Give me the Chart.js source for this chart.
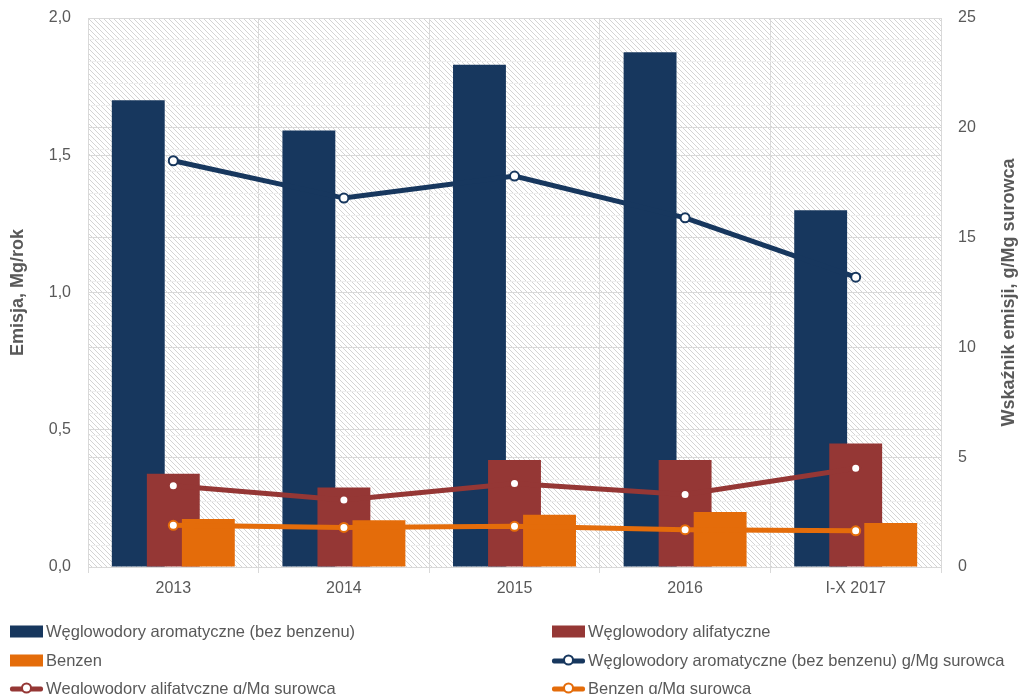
<!DOCTYPE html>
<html>
<head>
<meta charset="utf-8">
<script src="https://cdn.jsdelivr.net/npm/chart.js"></script>
<style>
  html, body { margin: 0; padding: 0; background: #fff; }
  #wrap { position: relative; width: 1025px; height: 694px; overflow: hidden; }
  #legend { position: absolute; left: 0; top: 0; width: 1025px; height: 694px; pointer-events: none;
            font-family: "Liberation Sans", Arial, sans-serif; font-size: 16.5px; color: #595959; }
  .item { position: absolute; display: flex; align-items: center; white-space: nowrap; transform: translateY(-50%); }
  .box { width: 33px; height: 12px; margin-right: 3px; }
  .ln { position: relative; width: 33px; height: 12px; margin-right: 3px; }
  .ln .bar { position: absolute; left: 0; right: 0; top: 4px; height: 5px; border-radius: 2px; }
  .ln .dot { position: absolute; left: 11px; top: 0; width: 7px; height: 7px; border-radius: 50%; background: #fff; border: 2.5px solid; }
</style>
</head>
<body>
<div id="wrap">
  <canvas id="chart" width="1025" height="694"></canvas>
  <div id="legend"></div>
</div>
<script>
// data
const years = ["2013", "2014", "2015", "2016", "I-X 2017"];
const aromatyczne = [1.70, 1.59, 1.83, 1.875, 1.30];
const alifatyczne = [0.34, 0.29, 0.39, 0.39, 0.45];
const benzen = [0.175, 0.17, 0.19, 0.20, 0.16];
const aromatyczneWsk = [18.5, 16.8, 17.8, 15.9, 13.2];
const alifatyczneWsk = [3.7, 3.05, 3.8, 3.3, 4.5];
const benzenWsk = [1.9, 1.8, 1.85, 1.7, 1.65];

const NAVY = "#17375E";
const RED = "#953735";
const ORANGE = "#E46C0A";
const GREY = "#595959";
const FONT = "'Liberation Sans', Arial, sans-serif";

// hatched background of the plot area
let hatch = null;
function getHatch(ctx) {
  if (hatch) return hatch;
  const c = document.createElement("canvas");
  c.width = 5; c.height = 5;
  const p = c.getContext("2d");
  p.fillStyle = "#ffffff";
  p.fillRect(0, 0, 5, 5);
  p.strokeStyle = "#d4d4d4";
  p.lineWidth = 1;
  p.beginPath();
  p.moveTo(-1, -1); p.lineTo(6, 6);
  p.moveTo(-1, 4); p.lineTo(1, 6);
  p.moveTo(4, -1); p.lineTo(6, 1);
  p.stroke();
  hatch = ctx.createPattern(c, "repeat");
  return hatch;
}

const hatchPlugin = {
  id: "hatch",
  beforeDraw(chart) {
    const a = chart.chartArea;
    const ctx = chart.ctx;
    ctx.save();
    ctx.fillStyle = getHatch(ctx);
    ctx.fillRect(a.left, a.top, a.right - a.left, a.bottom - a.top);
    ctx.restore();
  }
};

// bars: left-to-right order is navy, red, orange, but each next one overlaps the previous,
// so draw them here first in that order and skip them in the normal pass
const barLayering = {
  id: "barLayering",
  beforeDatasetsDraw(chart) {
    chart.data.datasets.forEach((ds, i) => {
      if (ds.type !== "line") chart.getDatasetMeta(i).controller.draw();
    });
  },
  beforeDatasetDraw(chart, args) {
    if (chart.data.datasets[args.index].type !== "line") return false;
  }
};

// right axis title, reading bottom to top like the left one
const rightTitle = {
  id: "rightTitle",
  afterDraw(chart) {
    const a = chart.chartArea;
    const ctx = chart.ctx;
    ctx.save();
    ctx.translate(1009, (a.top + a.bottom) / 2);
    ctx.rotate(-Math.PI / 2);
    ctx.font = "bold 18px " + FONT;
    ctx.fillStyle = GREY;
    ctx.textAlign = "center";
    ctx.textBaseline = "middle";
    ctx.fillText("Wskaźnik emisji, g/Mg surowca", 0, 0);
    ctx.restore();
  }
};

function fixY(width) {
  return s => { s.width = width; s.paddingTop = 0; s.paddingBottom = 0; };
}

const barOpts = { categoryPercentage: 0.616, barPercentage: 1.51, yAxisID: "yL" };
const lineOpts = { type: "line", yAxisID: "yR", borderWidth: 5, tension: 0, pointRadius: 4.5,
                   pointBorderWidth: 2, pointBackgroundColor: "#ffffff", order: 0 };

const chart = new Chart("chart", {
  type: "bar",
  data: {
    labels: years,
    datasets: [
      Object.assign({ type: "bar", label: "Węglowodory aromatyczne (bez benzenu)", data: aromatyczne, backgroundColor: NAVY, order: 1 }, barOpts),
      Object.assign({ type: "bar", label: "Węglowodory alifatyczne", data: alifatyczne, backgroundColor: RED, order: 2 }, barOpts),
      Object.assign({ type: "bar", label: "Benzen", data: benzen, backgroundColor: ORANGE, order: 3 }, barOpts),
      Object.assign({ label: "Węglowodory aromatyczne (bez benzenu) g/Mg surowca", data: aromatyczneWsk,
        borderColor: NAVY, backgroundColor: NAVY, pointBorderColor: NAVY }, lineOpts),
      Object.assign({ label: "Węglowodory alifatyczne g/Mg surowca", data: alifatyczneWsk,
        borderColor: RED, backgroundColor: RED, pointBorderColor: RED }, lineOpts),
      Object.assign({ label: "Benzen g/Mg surowca", data: benzenWsk,
        borderColor: ORANGE, backgroundColor: ORANGE, pointBorderColor: ORANGE }, lineOpts)
    ]
  },
  options: {
    responsive: false,
    animation: false,
    layout: { padding: { top: 18, left: 0, right: 0, bottom: 0 } },
    plugins: { legend: { display: false }, tooltip: { enabled: false } },
    scales: {
      x: {
        grid: { offset: true, color: "#d9d9d9", tickLength: 6 },
        border: { color: "#d9d9d9" },
        ticks: { color: GREY, font: { family: FONT, size: 16 }, padding: 6 },
        afterFit(s) { s.height = 694 - 567; s.paddingLeft = 0; s.paddingRight = 0; }
      },
      yL: {
        position: "left",
        min: 0, max: 2,
        grid: { color: "#d9d9d9", drawTicks: false },
        border: { color: "#d9d9d9" },
        ticks: { stepSize: 0.5, color: GREY, font: { family: FONT, size: 16 }, padding: 17,
                 callback: v => v.toFixed(1).replace(".", ",") },
        title: { display: true, text: "Emisja, Mg/rok", color: GREY, font: { family: FONT, size: 18, weight: "bold" },
                 padding: { top: 7, bottom: 0 } },
        afterFit: fixY(88)
      },
      yR: {
        position: "right",
        min: 0, max: 25,
        grid: { color: c => (c.tick && c.tick.value % 5 === 0) ? "#d9d9d9" : "#efefef", drawTicks: false },
        border: { color: "#d9d9d9" },
        ticks: { stepSize: 1, autoSkip: false, color: GREY, font: { family: FONT, size: 16 }, padding: 17,
                 callback: v => (v % 5 === 0 ? String(v) : "") },
        afterFit: fixY(1025 - 941)
      }
    }
  },
  plugins: [hatchPlugin, barLayering, rightTitle]
});

// legend in two columns under the chart
const legendPos = [[10, 631], [552, 631], [10, 660], [552, 660], [10, 688], [552, 688]];
const legend = document.getElementById("legend");
chart.data.datasets.forEach((ds, i) => {
  const it = document.createElement("div");
  it.className = "item";
  it.style.left = legendPos[i][0] + "px";
  it.style.top = legendPos[i][1] + "px";
  let mark;
  if (ds.type === "line") {
    mark = document.createElement("div");
    mark.className = "ln";
    mark.innerHTML = '<div class="bar" style="background:' + ds.borderColor + '"></div>' +
                     '<div class="dot" style="border-color:' + ds.borderColor + '"></div>';
  } else {
    mark = document.createElement("div");
    mark.className = "box";
    mark.style.background = ds.backgroundColor;
  }
  const t = document.createElement("span");
  t.textContent = ds.label;
  it.appendChild(mark);
  it.appendChild(t);
  legend.appendChild(it);
});
</script>
</body>
</html>
